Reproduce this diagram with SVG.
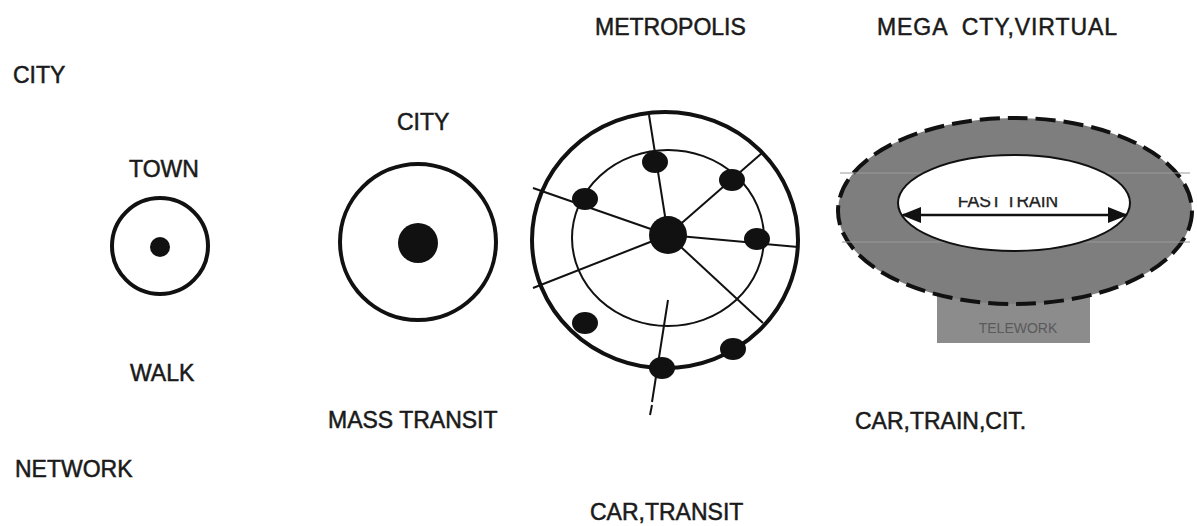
<svg xmlns="http://www.w3.org/2000/svg" width="1197" height="526" viewBox="0 0 1197 526">
<defs>
<style>
.lbl{font-family:"Liberation Sans",Arial,sans-serif;font-size:23px;fill:#1a1a1a;stroke:#1a1a1a;stroke-width:0.5}
.ring{fill:none;stroke:#111;stroke-width:4}
.thin{fill:none;stroke:#111;stroke-width:2}
.dot{fill:#111}
.spoke{stroke:#111;stroke-width:2;fill:none}
</style>
<marker id="ah" viewBox="0 0 10 10" refX="9" refY="5" markerWidth="8" markerHeight="8" orient="auto-start-reverse">
<path d="M0,1 L10,5 L0,9 z" fill="#111"/>
</marker>
<clipPath id="ftclip"><rect x="900" y="197" width="230" height="20"/></clipPath>
</defs>
<rect width="1197" height="526" fill="#fff"/>

<g id="labels">
<text class="lbl" x="595" y="35">METROPOLIS</text>
<text class="lbl" x="877" y="35" xml:space="preserve" textLength="240" lengthAdjust="spacing">MEGA  CTY,VIRTUAL</text>
<text class="lbl" x="13" y="83">CITY</text>
<text class="lbl" x="129" y="177">TOWN</text>
<text class="lbl" x="397" y="130">CITY</text>
<text class="lbl" x="130" y="381">WALK</text>
<text class="lbl" x="328" y="428">MASS TRANSIT</text>
<text class="lbl" x="855" y="429">CAR,TRAIN,CIT.</text>
<text class="lbl" x="15" y="477">NETWORK</text>
<text class="lbl" x="590" y="520">CAR,TRANSIT</text>
</g>

<g id="town">
<circle class="ring" cx="160" cy="246" r="48"/>
<circle class="dot" cx="160" cy="247" r="10"/>
</g>

<g id="city">
<circle class="ring" cx="418" cy="242" r="78"/>
<circle class="dot" cx="418" cy="243" r="20"/>
</g>

<g id="metropolis">
<ellipse class="ring" cx="665" cy="240" rx="133" ry="128"/>
<ellipse class="thin" cx="668" cy="238" rx="96" ry="88"/>
<g class="spoke">
<line x1="668" y1="235" x2="649" y2="115"/>
<line x1="668" y1="235" x2="762" y2="153"/>
<line x1="668" y1="235" x2="533" y2="188"/>
<line x1="668" y1="235" x2="798" y2="247"/>
<line x1="668" y1="235" x2="533" y2="288"/>
<line x1="668" y1="235" x2="763" y2="323"/>
<line x1="668" y1="300" x2="652" y2="402"/>
<line x1="652" y1="405" x2="650" y2="415"/>
</g>
<circle class="dot" cx="668" cy="235" r="19"/>
<ellipse class="dot" cx="655" cy="162" rx="13" ry="11"/>
<ellipse class="dot" cx="732" cy="180" rx="13" ry="11"/>
<ellipse class="dot" cx="585" cy="199" rx="13" ry="11"/>
<ellipse class="dot" cx="757" cy="239" rx="13" ry="11"/>
<ellipse class="dot" cx="585" cy="323" rx="13" ry="11"/>
<ellipse class="dot" cx="733" cy="349" rx="13" ry="11"/>
<ellipse class="dot" cx="662" cy="368" rx="13" ry="11"/>
</g>

<g id="megacity">
<rect x="937" y="290" width="153" height="53" fill="#8c8c8c"/>
<text x="1018" y="333" text-anchor="middle" font-family="'Liberation Sans',Arial,sans-serif" font-size="14" fill="#5a5a5a">TELEWORK</text>
<ellipse cx="1015" cy="211" rx="177" ry="93" fill="#7e7e7e" stroke="#111" stroke-width="4" stroke-dasharray="20 8"/>
<line x1="840" y1="173" x2="1190" y2="173" stroke="#9a9a9a" stroke-width="1"/>
<line x1="842" y1="242" x2="1190" y2="242" stroke="#9a9a9a" stroke-width="1"/>
<ellipse cx="1014" cy="203" rx="116" ry="48" fill="#fff" stroke="#111" stroke-width="2"/>
<text x="1008" y="207" text-anchor="middle" clip-path="url(#ftclip)" font-family="'Liberation Sans',Arial,sans-serif" font-size="17.5" fill="#222" stroke="#222" stroke-width="0.3">FAST TRAIN</text>
<line x1="903" y1="215" x2="1126" y2="215" stroke="#111" stroke-width="2.5" marker-start="url(#ah)" marker-end="url(#ah)"/>
</g>
</svg>
